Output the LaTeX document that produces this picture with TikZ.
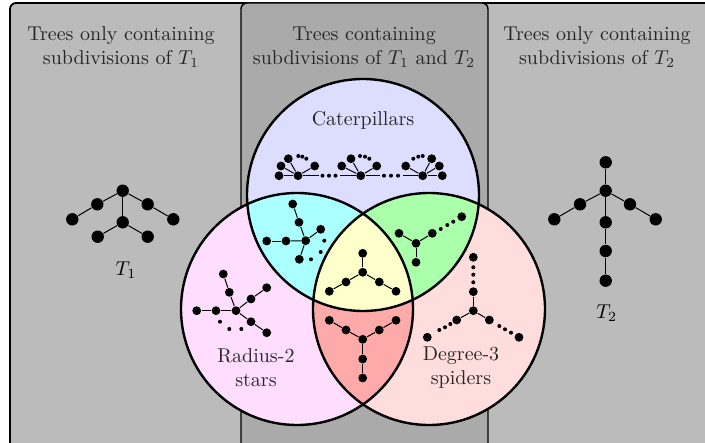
\documentclass[tikz,border=0pt]{standalone}
\usepackage{amsmath,amssymb}
\usepackage{tikz}
\usetikzlibrary{backgrounds}
\definecolor{outergray}{RGB}{187,187,187}
\definecolor{innergray}{RGB}{170,170,170}
\definecolor{catfill}{RGB}{221,221,255}
\definecolor{starfill}{RGB}{255,221,255}
\definecolor{spiderfill}{RGB}{255,221,221}
\definecolor{cyanfill}{RGB}{170,255,255}
\definecolor{greenfill}{RGB}{170,255,170}
\definecolor{redfill}{RGB}{255,170,170}
\definecolor{yellowfill}{RGB}{255,255,204}
\tikzstyle{vertex}=[circle,fill=black,inner sep=0pt,minimum size=4.4pt]
\tikzstyle{bigvertex}=[circle,fill=black,inner sep=0pt,minimum size=6.2pt]
\tikzstyle{gap}=[circle,fill=black,inner sep=0pt,minimum size=2pt]
\tikzstyle{setring}=[line width=1.2pt,draw=black]
\tikzstyle{settext}=[align=center,text=black!85]

\begin{document}
\begin{tikzpicture}[x=0.5pt,y=-0.5pt,line width=0.5pt]
    \useasboundingbox (0,0) rectangle (705,443);
    % The background boxes:
    \draw[fill=outergray,line width=0.9pt,rounded corners=3pt] (10,3) rectangle (730,470);
    \draw[fill=innergray,line width=0.7pt,rounded corners=3pt] (241,3) rectangle (488,470);
    \node[settext] (head1) at (121,47) {Trees only containing\\subdivisions of $T_1$};
    \node[settext] (head2) at (364,47) {Trees containing\\subdivisions of $T_1$ and $T_2$};
    \node[settext] (head3) at (597,47) {Trees only containing\\subdivisions of $T_2$};

    % The three circles of the diagram:
    \coordinate (cat) at (363,195);
    \coordinate (rad) at (297,309);
    \coordinate (spi) at (429,309);
    \fill[catfill] (cat) circle (58pt);
    \fill[starfill] (rad) circle (58pt);
    \fill[spiderfill] (spi) circle (58pt);
    \begin{scope}
      \clip (rad) circle (58pt);
      \fill[redfill] (spi) circle (58pt);
    \end{scope}
    \begin{scope}
      \clip (cat) circle (58pt);
      \fill[cyanfill] (rad) circle (58pt);
      \fill[greenfill] (spi) circle (58pt);
      \clip (rad) circle (58pt);
      \fill[yellowfill] (spi) circle (58pt);
    \end{scope}
    \draw[setring] (cat) circle (58pt);
    \draw[setring] (rad) circle (58pt);
    \draw[setring] (spi) circle (58pt);
    \node[settext] (catname) at (363,120) {Caterpillars};
    \node[settext] (radname) at (256,368) {Radius-2\\stars};
    \node[settext] (spiname) at (461,368) {Degree-3\\spiders};

    % First tree: T_1
    \node[bigvertex] (t1r)  at (122.7,190.7) {};
    \node[bigvertex] (t1a)  at (97.3,204.3) {};
    \node[bigvertex] (t1aa) at (72.3,219.3) {};
    \node[bigvertex] (t1b)  at (147.7,204.3) {};
    \node[bigvertex] (t1bb) at (173.3,219.3) {};
    \node[bigvertex] (t1c)  at (122.7,222.3) {};
    \node[bigvertex] (t1ca) at (97.7,236.7) {};
    \node[bigvertex] (t1cb) at (147.7,236.7) {};
    \node (t1name) at (126,270) {$T_1$};
    \path
    (t1r) edge (t1a) (t1a) edge (t1aa)
    (t1r) edge (t1b) (t1b) edge (t1bb)
    (t1r) edge (t1c) (t1c) edge (t1ca) (t1c) edge (t1cb);

    % Second tree: T_2
    \node[bigvertex] (t2top) at (605.7,162.3) {};
    \node[bigvertex] (t2r)   at (605.7,190.7) {};
    \node[bigvertex] (t2a)   at (580,204.3) {};
    \node[bigvertex] (t2aa)  at (554.3,219.3) {};
    \node[bigvertex] (t2b)   at (630,204.3) {};
    \node[bigvertex] (t2bb)  at (655.7,219.3) {};
    \node[bigvertex] (t2c)   at (605.7,222.3) {};
    \node[bigvertex] (t2cc)  at (605.7,251) {};
    \node[bigvertex] (t2ccc) at (605.7,280.7) {};
    \node (t2name) at (606.7,313) {$T_2$};
    \path
    (t2r) edge (t2top)
    (t2r) edge (t2a) (t2a) edge (t2aa)
    (t2r) edge (t2b) (t2b) edge (t2bb)
    (t2r) edge (t2c) (t2c) edge (t2cc) (t2cc) edge (t2ccc);

    % Caterpillar
    \node[vertex] (c1)   at (298,175.7) {};
    \node[vertex] (c1a)  at (279,175.7) {};
    \node[vertex] (c1b)  at (281,166) {};
    \node[vertex] (c1c)  at (288.3,158.7) {};
    \node[vertex] (c1d)  at (314.7,166) {};
    \node[gap] (c1g1) at (298.3,156) {};
    \node[gap] (c1g2) at (302.3,156.7) {};
    \node[gap] (c1g3) at (306.3,158.7) {};
    \coordinate (c1s) at (319,175.7);
    \node[gap] (s1g1) at (322.5,175.7) {};
    \node[gap] (s1g2) at (329,175.7) {};
    \node[gap] (s1g3) at (335.5,175.7) {};
    \coordinate (c2s) at (340,175.7);
    \node[vertex] (c2)   at (360.7,175.7) {};
    \node[vertex] (c2a)  at (341.7,166) {};
    \node[vertex] (c2b)  at (351,158.7) {};
    \node[vertex] (c2c)  at (376.7,166) {};
    \node[gap] (c2g1) at (360,156) {};
    \node[gap] (c2g2) at (365,156.7) {};
    \node[gap] (c2g3) at (369.3,158.7) {};
    \coordinate (c2t) at (380,175.7);
    \node[gap] (s2g1) at (384,175.7) {};
    \node[gap] (s2g2) at (391,175.7) {};
    \node[gap] (s2g3) at (398,175.7) {};
    \coordinate (c3s) at (403,175.7);
    \node[vertex] (c3)   at (422.7,175.7) {};
    \node[vertex] (c3a)  at (405.7,166) {};
    \node[vertex] (c3b)  at (431.7,158.7) {};
    \node[vertex] (c3c)  at (439.3,166) {};
    \node[vertex] (c3d)  at (442.3,175.7) {};
    \node[gap] (c3g1) at (413.3,158.7) {};
    \node[gap] (c3g2) at (418.3,156.7) {};
    \node[gap] (c3g3) at (422.7,156) {};
    \path
    (c1) edge (c1a) (c1) edge (c1b) (c1) edge (c1c) (c1) edge (c1d)
    (c1) edge (c1s) (c2s) edge (c2)
    (c2) edge (c2a) (c2) edge (c2b) (c2) edge (c2c)
    (c2) edge (c2t) (c3s) edge (c3)
    (c3) edge (c3a) (c3) edge (c3b) (c3) edge (c3c) (c3) edge (c3d);

    % Caterpillar and radius-2 star
    \node[vertex] (cy0) at (305.7,240.7) {};
    \node[vertex] (cy1) at (299,222.3) {};
    \node[vertex] (cy2) at (292.7,204) {};
    \node[vertex] (cy3) at (286,241) {};
    \node[vertex] (cy4) at (266.7,241) {};
    \node[vertex] (cy5) at (320.7,229.3) {};
    \node[vertex] (cy6) at (299.3,259.3) {};
    \node[gap] (cyg1) at (324.3,240.7) {};
    \node[gap] (cyg2) at (320.7,252) {};
    \node[gap] (cyg3) at (311,259.3) {};
    \path
    (cy0) edge (cy1) (cy1) edge (cy2)
    (cy0) edge (cy3) (cy3) edge (cy4)
    (cy0) edge (cy5) (cy0) edge (cy6);

    % Caterpillar and degree-3 spider
    \node[vertex] (gr0) at (416,243.3) {};
    \node[vertex] (gr1) at (399,233.3) {};
    \node[vertex] (gr2) at (432.3,233.3) {};
    \node[vertex] (gr3) at (416,262.3) {};
    \node[vertex] (gr4) at (461.7,216.7) {};
    \node[gap] (grg1) at (440.7,229) {};
    \node[gap] (grg2) at (447.3,225) {};
    \node[gap] (grg3) at (453.3,221.7) {};
    \path
    (gr0) edge (gr1) (gr0) edge (gr2) (gr0) edge (gr3);

    % All three classes
    \node[vertex] (ye0) at (362.7,272.3) {};
    \node[vertex] (ye1) at (362.7,253.3) {};
    \node[vertex] (ye2) at (346,282) {};
    \node[vertex] (ye3) at (329.3,291.3) {};
    \node[vertex] (ye4) at (379.3,282) {};
    \node[vertex] (ye5) at (396,291.3) {};
    \path
    (ye0) edge (ye1)
    (ye0) edge (ye2) (ye2) edge (ye3)
    (ye0) edge (ye4) (ye4) edge (ye5);

    % Radius-2 star and degree-3 spider
    \node[vertex] (re0) at (362.7,339.3) {};
    \node[vertex] (re1) at (346,330) {};
    \node[vertex] (re2) at (329.3,320.3) {};
    \node[vertex] (re3) at (379.3,330) {};
    \node[vertex] (re4) at (396,320.3) {};
    \node[vertex] (re5) at (362.7,359) {};
    \node[vertex] (re6) at (362.7,378) {};
    \path
    (re0) edge (re1) (re1) edge (re2)
    (re0) edge (re3) (re3) edge (re4)
    (re0) edge (re5) (re5) edge (re6);

    % Radius-2 star
    \node[vertex] (pi0) at (236,310.7) {};
    \node[vertex] (pi1) at (229.3,292.3) {};
    \node[vertex] (pi2) at (223.3,274) {};
    \node[vertex] (pi3) at (216,310.7) {};
    \node[vertex] (pi4) at (196.7,310.7) {};
    \node[vertex] (pi5) at (251,299) {};
    \node[vertex] (pi6) at (266.7,287.7) {};
    \node[vertex] (pi7) at (251,321.7) {};
    \node[vertex] (pi8) at (266.7,332.7) {};
    \node[gap] (pig1) at (220,321.7) {};
    \node[gap] (pig2) at (229.3,329) {};
    \node[gap] (pig3) at (241.3,329) {};
    \path
    (pi0) edge (pi1) (pi1) edge (pi2)
    (pi0) edge (pi3) (pi3) edge (pi4)
    (pi0) edge (pi5) (pi5) edge (pi6)
    (pi0) edge (pi7) (pi7) edge (pi8);

    % Degree-3 spider
    \node[vertex] (sp0) at (473.3,310.7) {};
    \node[vertex] (sp1) at (473.3,291.7) {};
    \node[vertex] (sp2) at (473.3,257.3) {};
    \node[vertex] (sp3) at (456.7,320) {};
    \node[vertex] (sp4) at (427.3,337.3) {};
    \node[vertex] (sp5) at (489.3,320) {};
    \node[vertex] (sp6) at (519,337.3) {};
    \node[gap] (spg1) at (473.3,267.3) {};
    \node[gap] (spg2) at (473.3,274.7) {};
    \node[gap] (spg3) at (473.3,282.3) {};
    \node[gap] (spg4) at (439.3,330) {};
    \node[gap] (spg5) at (445,327.3) {};
    \node[gap] (spg6) at (450.3,324) {};
    \node[gap] (spg7) at (499.3,326) {};
    \node[gap] (spg8) at (505,329.3) {};
    \node[gap] (spg9) at (511,332.7) {};
    \path
    (sp0) edge (sp1) (sp0) edge (sp3) (sp0) edge (sp5);
\end{tikzpicture}
\end{document}
